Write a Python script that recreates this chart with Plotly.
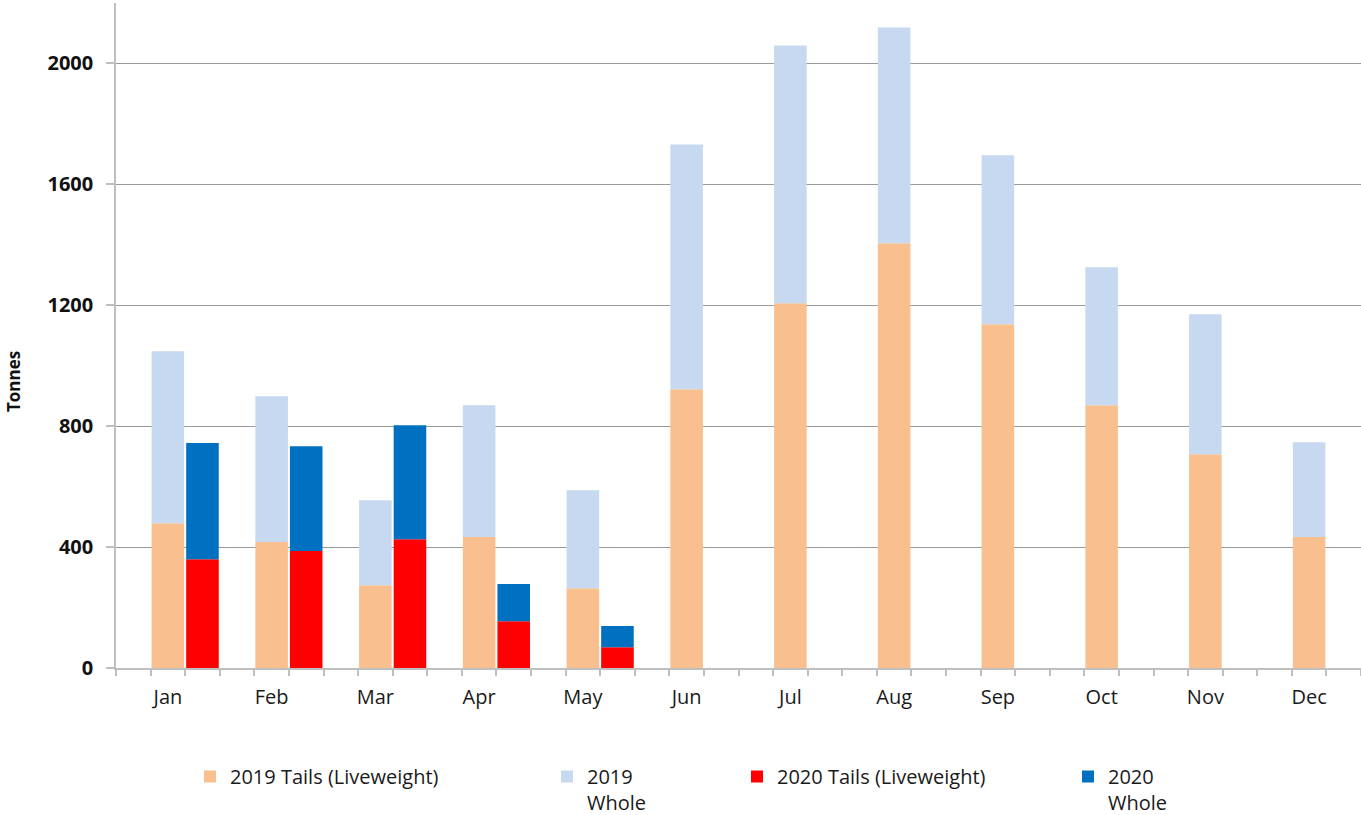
import plotly.graph_objects as go

months = ["Jan", "Feb", "Mar", "Apr", "May", "Jun", "Jul", "Aug", "Sep", "Oct", "Nov", "Dec"]
tails_2019 = [479, 417, 274, 433, 264, 922, 1207, 1405, 1137, 869, 707, 433]
total_2019 = [1048, 899, 555, 869, 588, 1732, 2059, 2119, 1696, 1326, 1170, 747]
tails_2020 = [360, 387, 426, 155, 69]
total_2020 = [744, 734, 803, 278, 139]

whole_2019 = [t - a for t, a in zip(total_2019, tails_2019)]
whole_2020 = [t - a for t, a in zip(total_2020, tails_2020)]

FONT = "Open Sans"
W, H = 1361, 815
L, R, T, B = 116, 0, 3, 147

xs19 = list(range(len(months)))
xs20 = list(range(len(tails_2020)))
bw = 0.314

fig = go.Figure()
fig.add_trace(go.Bar(x=xs19, y=tails_2019, name="2019 Tails (Liveweight)", width=bw, offset=-bw / 2,
                     marker=dict(color="#F9BF8F", line=dict(width=0)), legend="legend"))
fig.add_trace(go.Bar(x=xs19, y=whole_2019, base=tails_2019, name="2019<br>Whole", width=bw, offset=-bw / 2,
                     marker=dict(color="#C6D9F0", line=dict(width=0)), legend="legend2"))
fig.add_trace(go.Bar(x=xs20, y=tails_2020, name="2020 Tails (Liveweight)", width=bw, offset=1 / 3 - bw / 2,
                     marker=dict(color="#FF0000", line=dict(width=0)), legend="legend3"))
fig.add_trace(go.Bar(x=xs20, y=whole_2020, base=tails_2020, name="2020<br>Whole", width=bw, offset=1 / 3 - bw / 2,
                     marker=dict(color="#0070C0", line=dict(width=0)), legend="legend4"))


def px_x(p):
    return p / W


def px_y(p):
    return 1 - p / H


leg_common = dict(orientation="v", xref="container", yref="container", xanchor="left", yanchor="top",
                  font=dict(family=FONT, size=20, color="#1A1A1A"), bgcolor="rgba(0,0,0,0)",
                  valign="top", itemwidth=30, tracegroupgap=0)
LEG_TOP = 757
fig.update_layout(
    legend=dict(x=px_x(230 - 40), y=px_y(LEG_TOP), **leg_common),
    legend2=dict(x=px_x(587 - 40), y=px_y(LEG_TOP), **leg_common),
    legend3=dict(x=px_x(777 - 40), y=px_y(LEG_TOP), **leg_common),
    legend4=dict(x=px_x(1108 - 40), y=px_y(LEG_TOP), **leg_common),
)

fig.update_layout(
    width=W, height=H,
    margin=dict(l=L, r=R, t=T, b=B, pad=0, autoexpand=False),
    plot_bgcolor="white", paper_bgcolor="white",
    barmode="overlay",
    showlegend=True,
    font=dict(family=FONT, color="#1A1A1A"),
    xaxis=dict(range=[-0.5, 11.5], tickmode="array", tickvals=xs19, ticktext=months,
               ticks="", showgrid=False, zeroline=False, automargin=False,
               showline=True, linecolor="#BFBFBF", linewidth=1.5,
               tickfont=dict(family=FONT, size=20, color="#1A1A1A"), ticklabelstandoff=10,
               minor=dict(ticks="outside", tick0=-0.5, dtick=1 / 3, ticklen=6, tickcolor="#BFBFBF", tickwidth=1.5, showgrid=False)),
    yaxis=dict(range=[0, 2200], tickmode="linear", tick0=0, dtick=400, automargin=False,
               showgrid=True, gridcolor="#9A9A9A", gridwidth=1, zeroline=False,
               showline=True, linecolor="#BFBFBF", linewidth=1.5,
               ticks="outside", ticklen=8, tickcolor="#BFBFBF", tickwidth=1.5,
               tickfont=dict(family=FONT, size=20, color="#111111", weight="bold"),
               ticklabelstandoff=9),
    annotations=[dict(text="<b>Tonnes</b>", xref="paper", yref="paper",
                      x=(13 - L) / (W - L - R), y=(H - B - 382) / (H - T - B),
                      xanchor="center", yanchor="middle",
                      textangle=-90, showarrow=False, font=dict(family=FONT, size=17, color="#111111"))],
)

fig.write_html("out.html", config={"displayModeBar": False},
               post_script="document.body.style.margin='0px';")
